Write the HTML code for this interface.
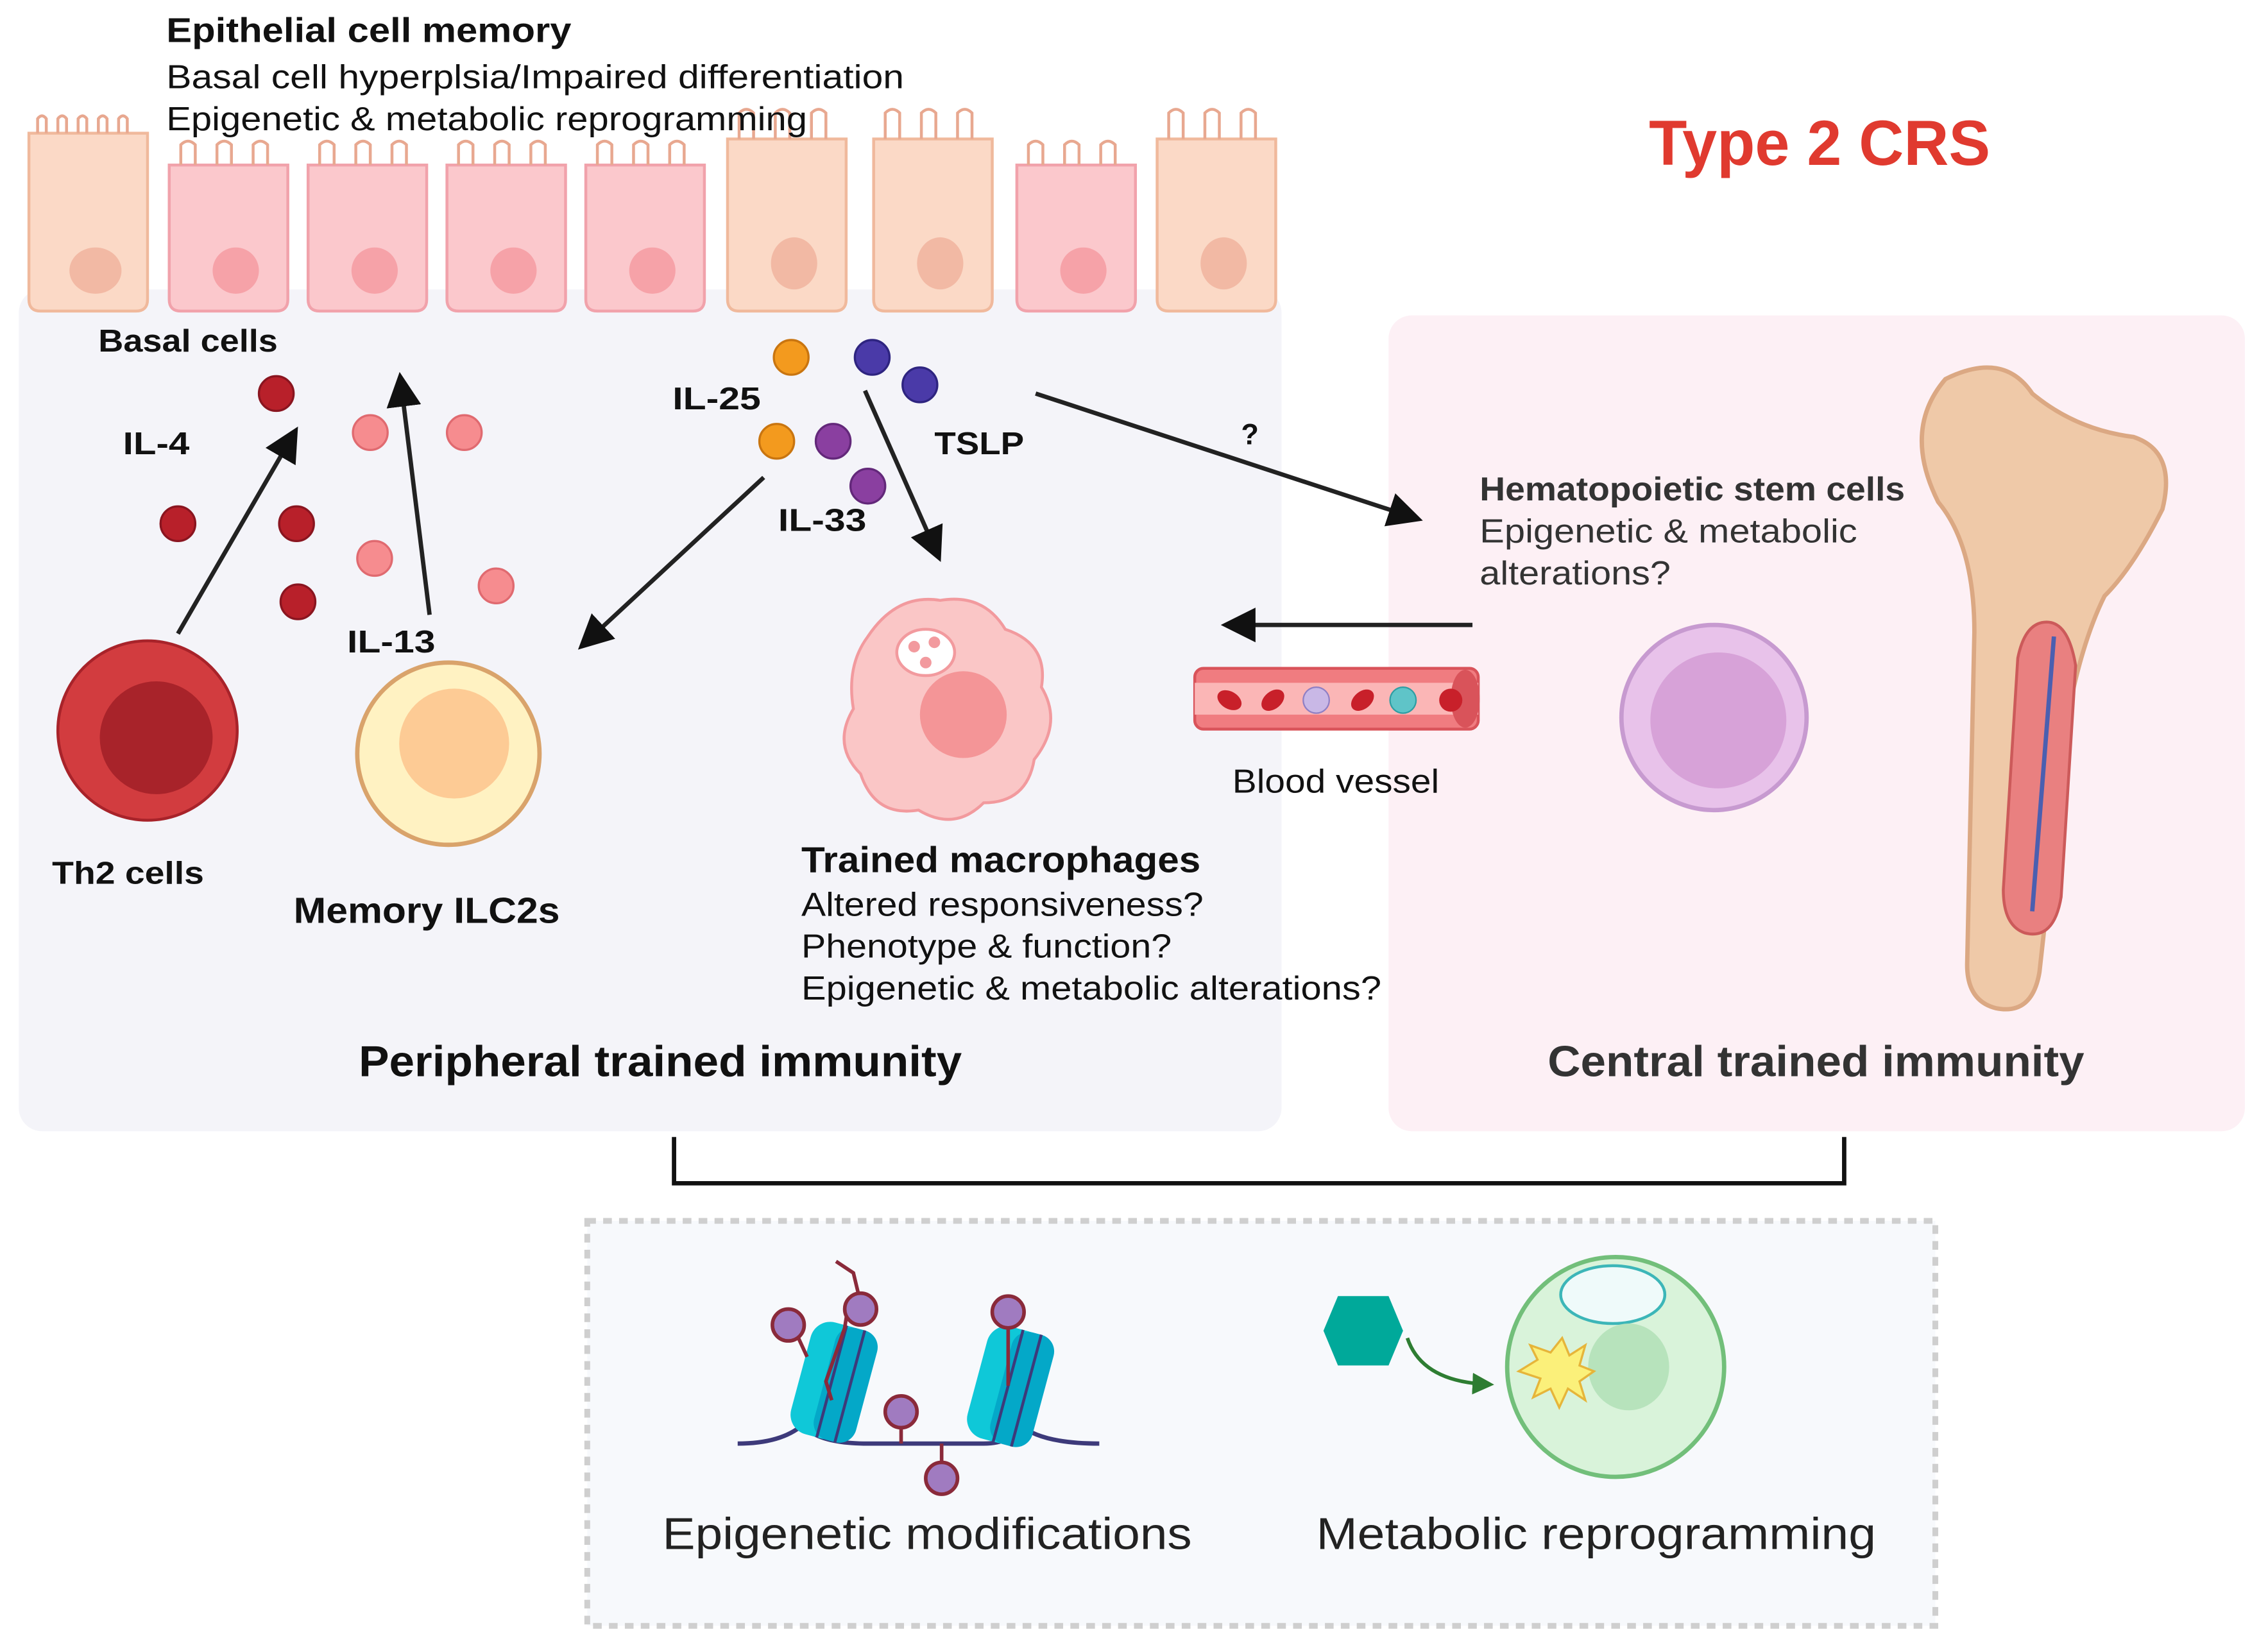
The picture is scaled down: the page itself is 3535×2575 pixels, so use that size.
<!DOCTYPE html>
<html><head><meta charset="utf-8"><style>html,body{margin:0;padding:0;background:#fff}svg{display:block}</style></head>
<body>
<svg width="3535" height="2575" viewBox="0 0 1568 1142" xmlns="http://www.w3.org/2000/svg" font-family="Liberation Sans, sans-serif">
<defs>
<marker id="ah" markerWidth="8" markerHeight="8" refX="6" refY="4" orient="auto" markerUnits="strokeWidth"><path d="M0,0 L8,4 L0,8 Z" fill="#111"/></marker>
<marker id="gh" markerWidth="6" markerHeight="6" refX="4" refY="3" orient="auto" markerUnits="strokeWidth"><path d="M0,0 L6,3 L0,6 Z" fill="#2e7d32"/></marker>
</defs>
<rect width="1568" height="1142" fill="#fff"/>
<rect x="13" y="200" width="873" height="582" rx="16" fill="#f4f4f9"/>
<rect x="960" y="218" width="592" height="564" rx="16" fill="#fdf0f5"/>

<!-- epithelial cells -->
<g stroke-width="2">
<g fill="#fbd9c6" stroke="#f0b99c"><path d="M20,92 h82 v115 q0,8 -8,8 h-66 q-8,0 -8,-8 Z"/><ellipse cx="66" cy="187" rx="18" ry="16" fill="#f2b9a4" stroke="none"/></g>
<g fill="#fbc8cc" stroke="#f1a2ab"><path d="M117,114 h82 v93 q0,8 -8,8 h-66 q-8,0 -8,-8 Z"/><circle cx="163" cy="187" r="16" fill="#f6a2a8" stroke="none"/></g>
<g fill="#fbc8cc" stroke="#f1a2ab"><path d="M213,114 h82 v93 q0,8 -8,8 h-66 q-8,0 -8,-8 Z"/><circle cx="259" cy="187" r="16" fill="#f6a2a8" stroke="none"/></g>
<g fill="#fbc8cc" stroke="#f1a2ab"><path d="M309,114 h82 v93 q0,8 -8,8 h-66 q-8,0 -8,-8 Z"/><circle cx="355" cy="187" r="16" fill="#f6a2a8" stroke="none"/></g>
<g fill="#fbc8cc" stroke="#f1a2ab"><path d="M405,114 h82 v93 q0,8 -8,8 h-66 q-8,0 -8,-8 Z"/><circle cx="451" cy="187" r="16" fill="#f6a2a8" stroke="none"/></g>
<g fill="#fbd9c6" stroke="#f0b99c"><path d="M503,96 h82 v111 q0,8 -8,8 h-66 q-8,0 -8,-8 Z"/><ellipse cx="549" cy="182" rx="16" ry="18" fill="#f2b9a4" stroke="none"/></g>
<g fill="#fbd9c6" stroke="#f0b99c"><path d="M604,96 h82 v111 q0,8 -8,8 h-66 q-8,0 -8,-8 Z"/><ellipse cx="650" cy="182" rx="16" ry="18" fill="#f2b9a4" stroke="none"/></g>
<g fill="#fbc8cc" stroke="#f1a2ab"><path d="M703,114 h82 v93 q0,8 -8,8 h-66 q-8,0 -8,-8 Z"/><circle cx="749" cy="187" r="16" fill="#f6a2a8" stroke="none"/></g>
<g fill="#fbd9c6" stroke="#f0b99c"><path d="M800,96 h82 v111 q0,8 -8,8 h-66 q-8,0 -8,-8 Z"/><ellipse cx="846" cy="182" rx="16" ry="18" fill="#f2b9a4" stroke="none"/></g>
</g>
<g stroke="#e8a890" stroke-width="2" fill="none">
<path d="M26,92 v-10 q3,-4 6,0 v10 M40,92 v-10 q3,-4 6,0 v10 M54,92 v-10 q3,-4 6,0 v10 M68,92 v-10 q3,-4 6,0 v10 M82,92 v-10 q3,-4 6,0 v10"/>
<path d="M125,114 v-14 q5,-5 10,0 v14 M150,114 v-14 q5,-5 10,0 v14 M175,114 v-14 q5,-5 10,0 v14 M221,114 v-14 q5,-5 10,0 v14 M246,114 v-14 q5,-5 10,0 v14 M271,114 v-14 q5,-5 10,0 v14 M317,114 v-14 q5,-5 10,0 v14 M342,114 v-14 q5,-5 10,0 v14 M367,114 v-14 q5,-5 10,0 v14 M413,114 v-14 q5,-5 10,0 v14 M438,114 v-14 q5,-5 10,0 v14 M463,114 v-14 q5,-5 10,0 v14"/>
<path d="M511,96 v-18 q5,-5 10,0 v18 M536,96 v-18 q5,-5 10,0 v18 M561,96 v-18 q5,-5 10,0 v18 M612,96 v-18 q5,-5 10,0 v18 M637,96 v-18 q5,-5 10,0 v18 M662,96 v-18 q5,-5 10,0 v18 M711,114 v-14 q5,-5 10,0 v14 M736,114 v-14 q5,-5 10,0 v14 M761,114 v-14 q5,-5 10,0 v14 M808,96 v-18 q5,-5 10,0 v18 M833,96 v-18 q5,-5 10,0 v18 M858,96 v-18 q5,-5 10,0 v18"/>
</g>

<g lengthAdjust="spacingAndGlyphs">
<text x="115" y="29" font-size="24" font-weight="bold" fill="#111" textLength="280" lengthAdjust="spacingAndGlyphs">Epithelial cell memory</text>
<text x="115" y="61" font-size="23" fill="#111" textLength="510" lengthAdjust="spacingAndGlyphs">Basal cell hyperplsia/Impaired differentiation</text>
<text x="115" y="90" font-size="23" fill="#111" textLength="443" lengthAdjust="spacingAndGlyphs">Epigenetic &amp; metabolic reprogramming</text>
<text x="1140" y="114" font-size="44" font-weight="bold" fill="#e03a2f" textLength="236" lengthAdjust="spacingAndGlyphs">Type 2 CRS</text>

<text x="68" y="243" font-size="22" font-weight="bold" fill="#111" textLength="124" lengthAdjust="spacingAndGlyphs">Basal cells</text>
<text x="85" y="314" font-size="22" font-weight="bold" fill="#111" textLength="46" lengthAdjust="spacingAndGlyphs">IL-4</text>
<text x="240" y="451" font-size="22" font-weight="bold" fill="#111" textLength="61" lengthAdjust="spacingAndGlyphs">IL-13</text>
<text x="465" y="283" font-size="22" font-weight="bold" fill="#111" textLength="61" lengthAdjust="spacingAndGlyphs">IL-25</text>
<text x="646" y="314" font-size="22" font-weight="bold" fill="#111" textLength="62" lengthAdjust="spacingAndGlyphs">TSLP</text>
<text x="538" y="367" font-size="22" font-weight="bold" fill="#111" textLength="61" lengthAdjust="spacingAndGlyphs">IL-33</text>
<text x="858" y="307" font-size="20" font-weight="bold" fill="#111">?</text>
</g>

<!-- cytokines -->
<g fill="#b8202a" stroke="#8a1520" stroke-width="1.5"><circle cx="191" cy="272" r="12"/><circle cx="123" cy="362" r="12"/><circle cx="205" cy="362" r="12"/><circle cx="206" cy="416" r="12"/></g>
<g fill="#f68c8f" stroke="#e06a70" stroke-width="1.5"><circle cx="256" cy="299" r="12"/><circle cx="321" cy="299" r="12"/><circle cx="259" cy="386" r="12"/><circle cx="343" cy="405" r="12"/></g>
<g fill="#f39a1e" stroke="#c97510" stroke-width="1.5"><circle cx="547" cy="247" r="12"/><circle cx="537" cy="305" r="12"/></g>
<g fill="#4a3aa8" stroke="#2e2480" stroke-width="1.5"><circle cx="603" cy="247" r="12"/><circle cx="636" cy="266" r="12"/></g>
<g fill="#8a3fa0" stroke="#63287a" stroke-width="1.5"><circle cx="576" cy="305" r="12"/><circle cx="600" cy="336" r="12"/></g>

<!-- arrows -->
<g stroke="#222" stroke-width="3" fill="none" marker-end="url(#ah)">
<line x1="123" y1="438" x2="203" y2="300"/>
<line x1="297" y1="425" x2="277" y2="263"/>
<line x1="528" y1="330" x2="404" y2="445"/>
<line x1="598" y1="270" x2="648" y2="383"/>
<line x1="716" y1="272" x2="978" y2="358"/>
<line x1="1018" y1="432" x2="850" y2="432"/>
</g>

<!-- cells -->
<circle cx="102" cy="505" r="62" fill="#d23c3f" stroke="#a8232a" stroke-width="2"/>
<circle cx="108" cy="510" r="39" fill="#a8232a"/>
<text x="36" y="611" font-size="22" font-weight="bold" fill="#111" textLength="105" lengthAdjust="spacingAndGlyphs">Th2 cells</text>
<circle cx="310" cy="521" r="63" fill="#fff2c2" stroke="#d9a36b" stroke-width="3"/>
<circle cx="314" cy="514" r="38" fill="#fdcb95"/>
<text x="203" y="638" font-size="25" font-weight="bold" fill="#111" textLength="184" lengthAdjust="spacingAndGlyphs">Memory ILC2s</text>

<path d="M600,440 q20,-30 50,-25 q30,-5 45,20 q30,10 25,40 q15,25 -5,50 q-5,30 -35,30 q-20,20 -45,5 q-30,5 -40,-25 q-20,-20 -5,-45 q-5,-30 10,-50 Z" fill="#fac6c6" stroke="#f29a9e" stroke-width="2"/>
<circle cx="666" cy="494" r="30" fill="#f49597"/>
<ellipse cx="640" cy="451" rx="20" ry="16" fill="#fff" stroke="#f29a9e" stroke-width="2"/>
<circle cx="632" cy="447" r="4" fill="#f29a9e"/><circle cx="646" cy="444" r="4" fill="#f29a9e"/><circle cx="640" cy="458" r="4" fill="#f29a9e"/>
<text x="554" y="603" font-size="25" font-weight="bold" fill="#111" textLength="276" lengthAdjust="spacingAndGlyphs">Trained macrophages</text>
<text x="554" y="633" font-size="23" fill="#111" textLength="278" lengthAdjust="spacingAndGlyphs">Altered responsiveness?</text>
<text x="554" y="662" font-size="23" fill="#111" textLength="256" lengthAdjust="spacingAndGlyphs">Phenotype &amp; function?</text>
<text x="554" y="691" font-size="23" fill="#111" textLength="401" lengthAdjust="spacingAndGlyphs">Epigenetic &amp; metabolic alterations?</text>
<text x="248" y="744" font-size="30" font-weight="bold" fill="#111" textLength="417" lengthAdjust="spacingAndGlyphs">Peripheral trained immunity</text>

<!-- blood vessel -->
<rect x="826" y="462" width="196" height="42" rx="6" fill="#f07c80" stroke="#d9535a" stroke-width="2"/>
<rect x="826" y="472" width="196" height="22" fill="#fbb6b6"/>
<ellipse cx="1013" cy="483" rx="10" ry="20" fill="#d9535a"/>
<g fill="#c8202a"><ellipse cx="850" cy="484" rx="9" ry="6" transform="rotate(30 850 484)"/><ellipse cx="880" cy="484" rx="9" ry="6" transform="rotate(-40 880 484)"/><ellipse cx="942" cy="484" rx="9" ry="6" transform="rotate(-40 942 484)"/><circle cx="1003" cy="484" r="8"/></g>
<circle cx="910" cy="484" r="9" fill="#c9b8e6" stroke="#8f7fc4"/><circle cx="970" cy="484" r="9" fill="#5fc4c8" stroke="#2e9ea3"/>
<text x="852" y="548" font-size="23" fill="#111" textLength="143" lengthAdjust="spacingAndGlyphs">Blood vessel</text>

<text x="1023" y="346" font-size="23" font-weight="bold" fill="#333" textLength="294" lengthAdjust="spacingAndGlyphs">Hematopoietic stem cells</text>
<text x="1023" y="375" font-size="23" fill="#333" textLength="261" lengthAdjust="spacingAndGlyphs">Epigenetic &amp; metabolic</text>
<text x="1023" y="404" font-size="23" fill="#333" textLength="132" lengthAdjust="spacingAndGlyphs">alterations?</text>
<circle cx="1185" cy="496" r="64" fill="#e8c2ea" stroke="#c79ad0" stroke-width="3"/>
<circle cx="1188" cy="498" r="47" fill="#d7a2d8"/>

<!-- bone -->
<path d="M1345,262 q40,-20 60,10 q30,25 70,30 q30,10 20,50 q-20,40 -40,60 q-15,30 -25,80 l-20,180 q-5,30 -30,25 q-20,-5 -20,-30 l5,-230 q0,-60 -25,-90 q-25,-50 5,-85 Z" fill="#efc9a8" stroke="#dba883" stroke-width="3"/>
<path d="M1415,430 q15,0 20,30 l-10,160 q-5,30 -25,25 q-15,-5 -15,-30 l10,-160 q5,-25 20,-25 Z" fill="#e98080" stroke="#cc5a5a" stroke-width="2"/>
<path d="M1420,440 l-15,190" stroke="#4b5fb0" stroke-width="3"/>
<text x="1070" y="744" font-size="30" font-weight="bold" fill="#333" textLength="371" lengthAdjust="spacingAndGlyphs">Central trained immunity</text>

<!-- bracket -->
<path d="M466,786 V818 H1275 V786" fill="none" stroke="#111" stroke-width="3"/>

<!-- bottom box -->
<rect x="406" y="844" width="932" height="280" fill="#f7f9fc" stroke="#cfcfcf" stroke-width="4" stroke-dasharray="6,5"/>
<path d="M510,998 Q540,998 555,985 Q565,998 600,998 L680,998 Q700,998 705,985 Q720,998 760,998" fill="none" stroke="#3d3a7a" stroke-width="3"/>
<g transform="rotate(15 575 955)"><rect x="553" y="915" width="40" height="80" rx="14" fill="#0fc8d8"/><rect x="570" y="915" width="30" height="80" rx="12" fill="#04a8c8"/><path d="M575,915 v80 M588,915 v80" stroke="#3d3a7a" stroke-width="2"/></g>
<g transform="rotate(15 697 958)"><rect x="675" y="918" width="40" height="80" rx="14" fill="#0fc8d8"/><rect x="692" y="918" width="30" height="80" rx="12" fill="#04a8c8"/><path d="M697,918 v80 M710,918 v80" stroke="#3d3a7a" stroke-width="2"/></g>
<g stroke="#8a2a3a" stroke-width="2.5" fill="none"><path d="M575,968 L571,955 L584,918 L586,905 M596,905 L590,880 L578,872 M552,925 L558,938 M697,918 V958 M623,988 V998 M651,998 V1012"/></g>
<g fill="#a07bc0" stroke="#8a2a3a" stroke-width="2.5"><circle cx="545" cy="916" r="11"/><circle cx="595" cy="905" r="11"/><circle cx="697" cy="907" r="11"/><circle cx="623" cy="976" r="11"/><circle cx="651" cy="1022" r="11"/></g>
<text x="458" y="1071" font-size="31" fill="#222" textLength="366" lengthAdjust="spacingAndGlyphs">Epigenetic modifications</text>

<polygon points="925,896 960,896 970,920 960,944 925,944 915,920" fill="#00a99a"/>
<path d="M973,925 q10,30 55,32" fill="none" stroke="#2e7d32" stroke-width="2.5" marker-end="url(#gh)"/>
<ellipse cx="1117" cy="945" rx="75" ry="76" fill="#d9f3da" stroke="#72bf7a" stroke-width="3"/>
<ellipse cx="1115" cy="895" rx="36" ry="20" fill="#effafa" stroke="#3cb6b8" stroke-width="2"/>
<ellipse cx="1126" cy="945" rx="28" ry="30" fill="#b7e3bc"/>
<polygon points="1080,925 1085,937 1096,930 1092,944 1102,948 1092,955 1096,968 1084,960 1078,973 1072,960 1060,966 1065,953 1050,948 1063,940 1058,930 1072,935" fill="#fbf07a" stroke="#e6b53a" stroke-width="1.5"/>
<text x="910" y="1071" font-size="31" fill="#222" textLength="387" lengthAdjust="spacingAndGlyphs">Metabolic reprogramming</text>
</svg>
</body></html>
